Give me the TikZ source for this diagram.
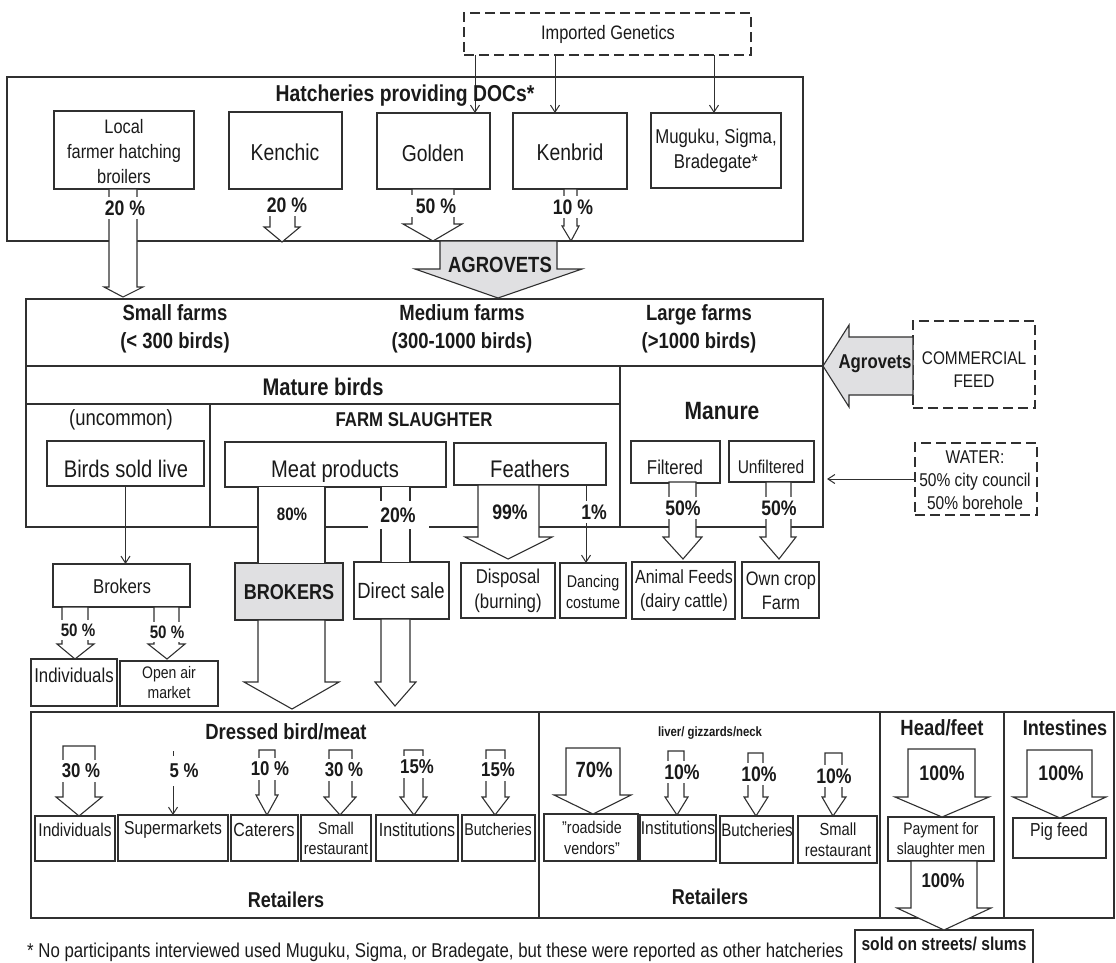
\documentclass[tikz,border=0pt]{standalone}
\usepackage{fontspec}
\setmainfont{Liberation Sans}[FakeStretch=0.84]
\usetikzlibrary{arrows.meta}
\definecolor{lc}{HTML}{303030}
\definecolor{tc}{HTML}{1A1A1A}
\definecolor{gfill}{HTML}{E0E0E2}
\newcommand\fz[2]{\fontsize{#1}{#2}\selectfont}
\newcommand\rbox[6][box]{\pgfmathsetmacro\bw{#5-#3}\pgfmathsetmacro\bh{#6-#4}\node[#1,minimum width=\bw pt,minimum height=\bh pt,anchor=north west] (#2) at (#3,#4) {};}
\newcommand\blk[9][white]{\filldraw[blkst,fill=#1] (#2,#4) -- (#2,#5) -- (#6,#5) -- (#8,#9) -- (#7,#5) -- (#3,#5) -- (#3,#4) -- cycle;}
\tikzset{
  box/.style={draw=lc, line width=1.1pt, inner sep=0pt, outer sep=0pt},
  obox/.style={draw=lc, line width=1.7pt, inner sep=0pt, outer sep=0pt},
  gbox/.style={box, fill=gfill},
  dbox/.style={draw=lc, line width=1.1pt, inner sep=0pt, outer sep=0pt, dash pattern=on 10pt off 5pt},
  txt/.style={inner sep=0pt, align=center, text=tc},
  pct/.style={fill=white, inner xsep=3pt, inner ysep=4pt, align=center, text=tc},
  blkst/.style={draw=lc, line width=1.1pt, line join=miter},
  ln/.style={draw=lc, line width=1.1pt},
  oln/.style={draw=lc, line width=1.7pt},
  arr/.style={draw=lc, line width=1pt, -{Straight Barb[length=7pt,width=9pt]}},
}
\begin{document}
\begin{tikzpicture}[x=1pt,y=-1pt]
\useasboundingbox (0,0) rectangle (1116,962);
% ---------- boxes ----------
\rbox[dbox]{imp}{464}{13}{751}{55}
\rbox[obox]{hatch}{7}{77}{803}{241}
\rbox{local}{54}{111}{194}{189}
\rbox{kenchic}{229}{112}{342}{189}
\rbox{golden}{377}{113}{490}{189}
\rbox{kenbrid}{513}{113}{627}{189}
\rbox{muguku}{651}{113}{781}{188}
\rbox[obox]{farm}{26}{299}{823}{527}
\draw[ln] (26,366) -- (823,366);
\draw[ln] (26,404) -- (620,404);
\draw[ln] (210,404) -- (210,527);
\draw[ln] (620,366) -- (620,527);
\rbox{birdslive}{47}{441}{204}{486}
\rbox{meat}{225}{442}{446}{487}
\rbox{feathers}{454}{443}{606}{485}
\rbox{filtered}{631}{441}{720}{483}
\rbox{unfiltered}{729}{441}{814}{482}
\rbox[dbox]{feed}{913}{321}{1035}{408}
\rbox[dbox]{water}{915}{443}{1037}{515}
\rbox{brokers}{53}{564}{190}{607}
\rbox[gbox]{brokersB}{235}{563}{343}{620}
\rbox{direct}{354}{562}{449}{619}
\rbox{disposal}{461}{563}{555}{618}
\rbox{dancing}{560}{563}{626}{618}
\rbox{animal}{632}{562}{735}{619}
\rbox{owncrop}{742}{562}{819}{618}
\rbox{indivA}{31}{659}{117}{706}
\rbox{openair}{120}{661}{218}{706}
\rbox[obox]{retail}{31}{712}{1114}{918}
\draw[ln] (539,712) -- (539,918);
\draw[ln] (880,712) -- (880,918);
\draw[ln] (1004,712) -- (1004,918);
\rbox{indivB}{35}{816}{115}{861}
\rbox{supermk}{118}{815}{228}{861}
\rbox{caterers}{231}{815}{298}{861}
\rbox{smallrA}{301}{815}{371}{861}
\rbox{instA}{376}{815}{458}{861}
\rbox{butchA}{462}{815}{535}{861}
\rbox{roadside}{544}{814}{638}{861}
\rbox{instB}{640}{815}{716}{861}
\rbox{butchB}{720}{816}{793}{863}
\rbox{smallrB}{798}{816}{877}{863}
\rbox{payment}{888}{817}{994}{861}
\rbox{pigfeed}{1013}{818}{1106}{858}
\rbox{sold}{855}{930}{1033}{975}
% ---------- block arrows ----------
\blk{109}{137}{189}{287}{104}{143}{123}{297}
\blk{270}{295}{210}{227}{264}{300}{282}{242}
\blk{412}{454}{189}{224}{403}{462}{433}{241}
\blk{564}{577}{189}{226}{562}{579}{571}{241}
\blk[gfill]{440}{557}{241}{269}{415}{582}{498}{298}
\filldraw[blkst,fill=gfill] (913,337) -- (849,337) -- (849,325) -- (823,366) -- (849,407) -- (849,395) -- (913,395) -- cycle;
\coordinate (m1) at (258,0);
\coordinate (m2) at (325,0);
\coordinate (m3) at (381,0);
\coordinate (m4) at (410,0);
\fill[white] (258,487) rectangle (325,563);
\draw[ln] (meat.south -| m1) -- (brokersB.north -| m1);
\draw[ln] (meat.south -| m2) -- (brokersB.north -| m2);
\fill[white] (381,487) rectangle (410,562);
\draw[ln] (meat.south -| m3) -- (direct.north -| m3);
\draw[ln] (meat.south -| m4) -- (direct.north -| m4);
\blk{478}{539}{485}{537}{465}{552}{508}{559}
\blk{669}{696}{482}{537}{663}{702}{683}{559}
\blk{766}{791}{482}{537}{760}{796}{779}{559}
\blk{62}{88}{607}{644}{57}{94}{75}{659}
\blk{154}{179}{607}{644}{148}{185}{167}{659}
\blk{258}{325}{620}{682}{244}{339}{292}{709}
\blk{381}{410}{619}{682}{375}{416}{395}{706}
\blk{63}{95}{746}{797}{56}{102}{79}{816}
\blk{259}{275}{750}{795}{256}{278}{267}{815}
\blk{329}{352}{750}{797}{324}{356}{340}{815}
\blk{404}{423}{750}{797}{400}{427}{414}{815}
\blk{486}{505}{750}{797}{482}{509}{495}{815}
\blk{566}{620}{748}{795}{554}{631}{593}{814}
\blk{668}{684}{751}{797}{665}{688}{677}{815}
\blk{748}{763}{753}{797}{744}{768}{756}{816}
\blk{825}{842}{753}{797}{822}{846}{833}{816}
\blk{908}{975}{749}{797}{895}{989}{942}{817}
\blk{1027}{1092}{750}{797}{1013}{1106}{1060}{818}
\blk{911}{977}{861}{908}{897}{991}{944}{930}
% ---------- thin arrows ----------
\coordinate (ia) at (475,0);
\coordinate (ib) at (555,0);
\coordinate (ic) at (714,0);
\coordinate (fd) at (586,0);
\coordinate (sm) at (173,786);
\draw[arr] (imp.south -| ia) -- (golden.north -| ia);
\draw[arr] (imp.south -| ib) -- (kenbrid.north -| ib);
\draw[arr] (imp.south -| ic) -- (muguku.north -| ic);
\draw[arr] (birdslive.south) -- (birdslive.south |- brokers.north);
\draw[arr] (feathers.south -| fd) -- (dancing.north -| fd);
\draw[arr] (water.west) -- ([xshift=4pt]farm.east |- water.west);
\draw[ln, line width=0.8pt] (173,751) -- (173,756);
\draw[arr] (sm) -- (sm |- supermk.north);
% ---------- texts ----------
\node[txt, font=\fz{19.5}{24}] (t-imp) at (608,34) {Imported Genetics};
\node[txt, font=\fz{23}{28}\bfseries] (t-hatch) at (405,96) {Hatcheries providing DOCs*};
\node[txt, font=\fz{19.5}{25}] (t-local) at (124,152) {Local\\farmer hatching\\broilers};
\node[txt, font=\fz{23}{28}] (t-kenchic) at (285,152) {Kenchic};
\node[txt, font=\fz{23}{28}] (t-golden) at (433,153) {Golden};
\node[txt, font=\fz{23}{28}] (t-kenbrid) at (570,152) {Kenbrid};
\node[txt, font=\fz{20}{25}] (t-muguku) at (716,151) {Muguku, Sigma,\\Bradegate*};
\node[pct, font=\fz{21}{25}\bfseries] (p-local) at (125,208) {20 \%};
\node[pct, font=\fz{21}{25}\bfseries] (p-kenchic) at (287,205) {20 \%};
\node[pct, font=\fz{21}{25}\bfseries, minimum width=52pt] (p-golden) at (436,206) {50 \%};
\node[pct, font=\fz{21}{25}\bfseries] (p-kenbrid) at (573,207) {10 \%};
\node[txt, font=\fz{22}{26}\bfseries] (t-agro) at (500,265) {AGROVETS};
\node[txt, font=\fz{22}{28}\bfseries] (t-small) at (175,329) {Small farms\\(< 300 birds)};
\node[txt, font=\fz{22}{28}\bfseries] (t-medium) at (462,329) {Medium farms\\(300-1000 birds)};
\node[txt, font=\fz{22}{28}\bfseries] (t-large) at (699,329) {Large farms\\(>1000 birds)};
\node[txt, font=\fz{24}{28}\bfseries] (t-mature) at (323,387) {Mature birds};
\node[txt, font=\fz{22}{26}] (t-uncommon) at (121,420) {(uncommon)};
\node[txt, font=\fz{20}{24}\bfseries] (t-slaughter) at (414,420) {FARM SLAUGHTER};
\node[txt, font=\fz{25}{30}\bfseries] (t-manure) at (722,411) {Manure};
\node[txt, font=\fz{24}{28}] (t-birdslive) at (126,469) {Birds sold live};
\node[txt, font=\fz{24}{28}] (t-meat) at (335,471) {Meat products};
\node[txt, font=\fz{24}{28}] (t-feathers) at (530,469) {Feathers};
\node[txt, font=\fz{20}{24}] (t-filtered) at (675,467) {Filtered};
\node[txt, font=\fz{18.5}{22}] (t-unfiltered) at (771,467) {Unfiltered};
\node[pct, font=\fz{18}{22}\bfseries, fill=none] (p-80) at (292,514) {80\%};
\node[pct, font=\fz{21}{25}\bfseries, minimum width=61pt, minimum height=28pt] (p-20) at (398,515) {20\%};
\node[pct, font=\fz{21}{25}\bfseries, fill=none] (p-99) at (510,512) {99\%};
\node[pct, font=\fz{21}{25}\bfseries, inner xsep=1pt] (p-1) at (594,512) {1\%};
\node[pct, font=\fz{21}{25}\bfseries] (p-filt) at (683,508) {50\%};
\node[pct, font=\fz{21}{25}\bfseries] (p-unfilt) at (779,508) {50\%};
\node[txt, font=\fz{20}{24}\bfseries] (t-agrov) at (875,364) {Agrovets};
\node[txt, font=\fz{18.3}{23}] (t-feed) at (974,370) {COMMERCIAL\\FEED};
\node[txt, font=\fz{18.5}{23}] (t-water) at (975,480) {WATER:\\50\% city council\\50\% borehole};
\node[txt, font=\fz{20}{24}] (t-brokers) at (122,586) {Brokers};
\node[txt, font=\fz{21.5}{25}\bfseries] (t-brokersB) at (289,592) {BROKERS};
\node[txt, font=\fz{22}{26}] (t-direct) at (401,591) {Direct sale};
\node[txt, font=\fz{20}{25}] (t-disposal) at (508,591) {Disposal\\(burning)};
\node[txt, font=\fz{17}{21}] (t-dancing) at (593,592) {Dancing\\costume};
\node[txt, font=\fz{19}{24}] (t-animal) at (684,591) {Animal Feeds\\(dairy cattle)};
\node[txt, font=\fz{19.5}{24}] (t-owncrop) at (781,591) {Own crop\\Farm};
\node[pct, font=\fz{18}{22}\bfseries] (p-bl) at (78,630) {50 \%};
\node[pct, font=\fz{18}{22}\bfseries] (p-br) at (167,632) {50 \%};
\node[txt, font=\fz{20}{24}] (t-indivA) at (74,675) {Individuals};
\node[txt, font=\fz{16.7}{20}] (t-openair) at (169,683) {Open air\\market};
\node[txt, font=\fz{22}{26}\bfseries] (t-dressed) at (286,732) {Dressed bird/meat};
\node[txt, font=\fz{13.5}{16}\bfseries] (t-liver) at (710,733) {liver/ gizzards/neck};
\node[txt, font=\fz{22}{26}\bfseries] (t-head) at (942,728) {Head/feet};
\node[txt, font=\fz{21.5}{26}\bfseries] (t-intest) at (1065,728) {Intestines};
\node[pct, font=\fz{20}{24}\bfseries] (p-ind) at (81,771) {30 \%};
\node[txt, font=\fz{20}{24}\bfseries] (p-sup) at (184,771) {5 \%};
\node[pct, font=\fz{20}{24}\bfseries] (p-cat) at (270,769) {10 \%};
\node[pct, font=\fz{20}{24}\bfseries] (p-sr) at (344,770) {30 \%};
\node[pct, font=\fz{20}{24}\bfseries] (p-inst) at (417,767) {15\%};
\node[pct, font=\fz{20}{24}\bfseries] (p-but) at (498,770) {15\%};
\node[pct, font=\fz{22}{26}\bfseries, fill=none] (p-70) at (594,770) {70\%};
\node[pct, font=\fz{21}{25}\bfseries] (p-instB) at (682,772) {10\%};
\node[pct, font=\fz{21}{25}\bfseries] (p-butB) at (759,774) {10\%};
\node[pct, font=\fz{21}{25}\bfseries] (p-srB) at (834,776) {10\%};
\node[pct, font=\fz{21}{25}\bfseries, fill=none] (p-head) at (942,773) {100\%};
\node[pct, font=\fz{21}{25}\bfseries, fill=none] (p-intest) at (1061,773) {100\%};
\node[pct, font=\fz{20}{24}\bfseries, fill=none] (p-pay) at (943,881) {100\%};
\node[txt, font=\fz{18.4}{22}] (t-indivB) at (75,830) {Individuals};
\node[txt, font=\fz{18.7}{22}] (t-supermk) at (173,830) {Supermarkets};
\node[txt, font=\fz{19}{22}] (t-caterers) at (264,830) {Caterers};
\node[txt, font=\fz{17}{20}] (t-smallrA) at (336,838) {Small\\restaurant};
\node[txt, font=\fz{19}{22}] (t-instA) at (417,830) {Institutions};
\node[txt, font=\fz{17}{20}] (t-butchA) at (498,829) {Butcheries};
\node[txt, font=\fz{17}{21}] (t-roadside) at (592,838) {"roadside\\vendors"};
\node[txt, font=\fz{18.5}{22}] (t-instB) at (678,828) {Institutions};
\node[txt, font=\fz{18}{22}] (t-butchB) at (757,830) {Butcheries};
\node[txt, font=\fz{17.5}{21}] (t-smallrB) at (838,840) {Small\\restaurant};
\node[txt, font=\fz{16.6}{20}] (t-payment) at (941,840) {Payment for\\slaughter men};
\node[txt, font=\fz{18.8}{22}] (t-pigfeed) at (1059,832) {Pig feed};
\node[txt, font=\fz{21.5}{26}\bfseries] (t-retA) at (286,900) {Retailers};
\node[txt, font=\fz{21.5}{26}\bfseries] (t-retB) at (710,897) {Retailers};
\node[txt, font=\fz{18.6}{22}\bfseries] (t-sold) at (944,944) {sold on streets/ slums};
\node[txt, font=\fz{20}{22}, anchor=west] (t-foot) at (27,952) {* No participants interviewed used Muguku, Sigma, or Bradegate, but these were reported as other hatcheries};
\end{tikzpicture}
\end{document}
